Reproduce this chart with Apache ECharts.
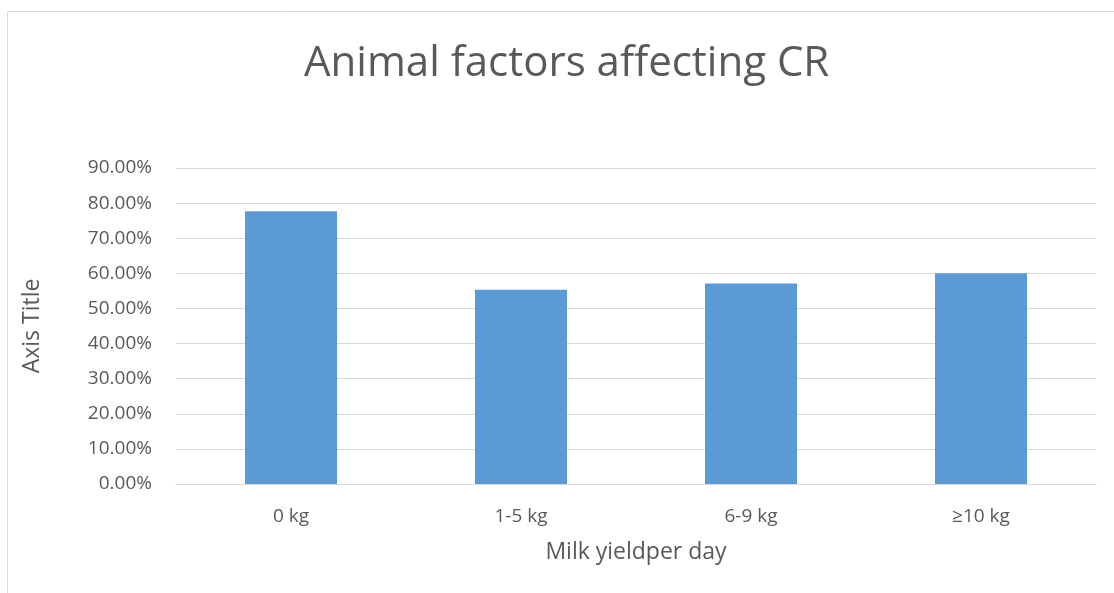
<!DOCTYPE html>
<html>
<head>
<meta charset="utf-8">
<script src="https://cdn.jsdelivr.net/npm/echarts@6/dist/echarts.min.js"></script>
<style>
  html, body { margin: 0; padding: 0; background: #fff; }
  #chart { width: 1114px; height: 593px; }
</style>
</head>
<body>
<div id="chart"></div>
<script>
// Milk yield per day groups and conception rate (%)
const categories = ['0 kg', '1-5 kg', '6-9 kg', '≥10 kg'];
const conceptionRate = [77.7, 55.3, 57.1, 60.0];
const yTicks = { min: 0, max: 90, interval: 10 };

const textColor = '#595959';
const gridColor = '#d9d9d9';
const font = '"Open Sans", "Liberation Sans", sans-serif';

const chart = echarts.init(document.getElementById('chart'));
chart.setOption({
  backgroundColor: '#fff',
  animation: false,
  title: {
    text: 'Animal factors affecting CR',
    left: 299,
    top: 38,
    textStyle: { color: textColor, fontSize: 42, fontWeight: 'normal', fontFamily: font }
  },
  graphic: [{
    type: 'rect',
    shape: { x: 7.5, y: 11.5, width: 1200, height: 700 },
    style: { fill: 'none', stroke: gridColor, lineWidth: 1 },
    silent: true
  }],
  grid: { left: 176, right: 18, top: 168, bottom: 109, containLabel: false },
  xAxis: {
    type: 'category',
    data: categories,
    name: 'Milk yieldper day',
    nameLocation: 'middle',
    nameGap: 57,
    nameTextStyle: { color: textColor, fontSize: 23, fontFamily: font },
    axisLine: { lineStyle: { color: gridColor } },
    axisTick: { show: false },
    axisLabel: { color: textColor, fontSize: 19, fontFamily: font, margin: 23 }
  },
  yAxis: {
    type: 'value',
    min: yTicks.min,
    max: yTicks.max,
    interval: yTicks.interval,
    name: 'Axis Title',
    nameLocation: 'middle',
    nameRotate: 90,
    nameGap: 132,
    nameTextStyle: { color: textColor, fontSize: 23, fontFamily: font },
    axisLine: { show: false },
    axisTick: { show: false },
    splitLine: { lineStyle: { color: gridColor, width: 1 } },
    axisLabel: {
      color: textColor, fontSize: 19, fontFamily: font, margin: 24,
      formatter: v => v.toFixed(2) + '%'
    }
  },
  series: [{
    type: 'bar',
    data: conceptionRate,
    barWidth: '40%',
    itemStyle: { color: '#5b9bd5' }
  }]
});
</script>
</body>
</html>
